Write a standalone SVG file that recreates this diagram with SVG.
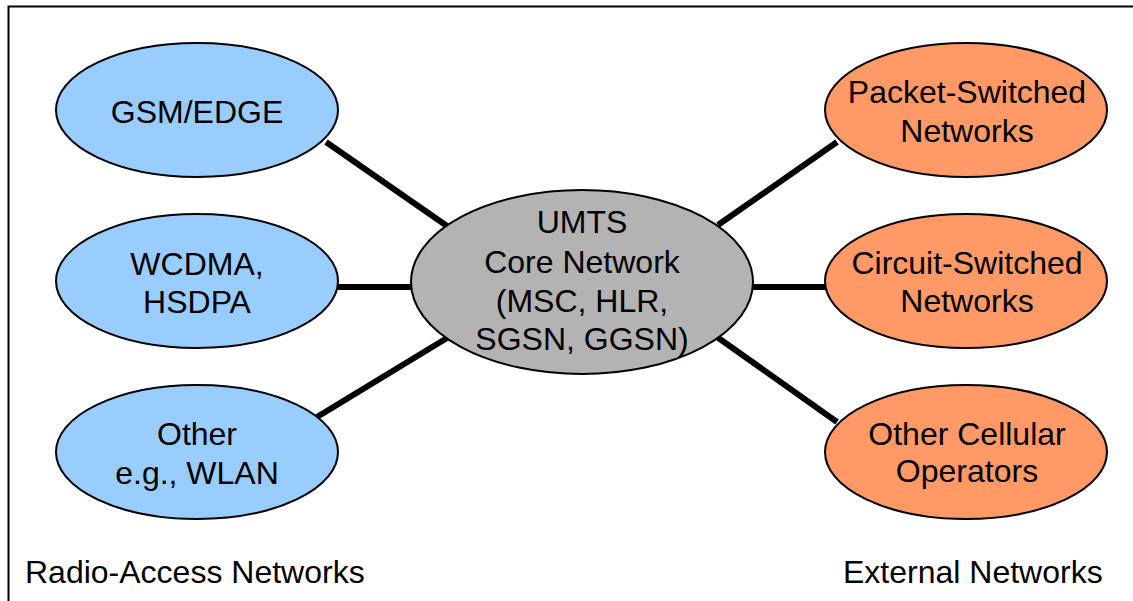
<svg xmlns="http://www.w3.org/2000/svg" width="1133" height="601" viewBox="0 0 1133 601">
<style>
text{font-family:"Liberation Sans",Arial,sans-serif;font-size:32px;fill:#000;text-anchor:middle}
.lbl{text-anchor:start}
.ran{fill:#99CCFF;stroke:#000;stroke-width:2}
.ext{fill:#FF9966;stroke:#000;stroke-width:2}
.core{fill:#B3B3B3;stroke:#000;stroke-width:2}
.conn line{stroke:#000;stroke-width:6}
</style>
<rect x="0" y="0" width="1133" height="601" fill="#fff"/>
<rect x="8.5" y="6.5" width="1140" height="610" fill="none" stroke="#000" stroke-width="2"/>
<g id="connectors" class="conn">
<line x1="326" y1="142" x2="447" y2="226"/>
<line x1="338" y1="287" x2="412" y2="287"/>
<line x1="317" y1="417" x2="447" y2="338"/>
<line x1="718" y1="225" x2="837" y2="142"/>
<line x1="753" y1="287" x2="826" y2="287"/>
<line x1="717" y1="337" x2="837" y2="422"/>
</g>
<g id="gsm"><ellipse class="ran" cx="197" cy="110" rx="141" ry="67"/><text x="197" y="123">GSM/EDGE</text></g>
<g id="wcdma"><ellipse class="ran" cx="197" cy="281" rx="141" ry="67"/><text x="197" y="275">WCDMA,</text><text x="197" y="313">HSDPA</text></g>
<g id="other"><ellipse class="ran" cx="197" cy="452" rx="141" ry="67"/><text x="197" y="445">Other</text><text x="197" y="484">e.g., WLAN</text></g>
<g id="core"><ellipse class="core" cx="582" cy="282" rx="171" ry="92"/><text x="582" y="233">UMTS</text><text x="582" y="273">Core Network</text><text x="582" y="312">(MSC, HLR,</text><text x="582" y="350">SGSN, GGSN)</text></g>
<g id="packet"><ellipse class="ext" cx="966" cy="110" rx="141" ry="67"/><text x="967" y="103">Packet-Switched</text><text x="967" y="142">Networks</text></g>
<g id="circuit"><ellipse class="ext" cx="966" cy="281" rx="141" ry="67"/><text x="967" y="274">Circuit-Switched</text><text x="967" y="312">Networks</text></g>
<g id="cellular"><ellipse class="ext" cx="966" cy="452" rx="141" ry="67"/><text x="967" y="445">Other Cellular</text><text x="967" y="482">Operators</text></g>
<text class="lbl" x="25" y="583">Radio-Access Networks</text>
<text class="lbl" x="843" y="583">External Networks</text>
</svg>
